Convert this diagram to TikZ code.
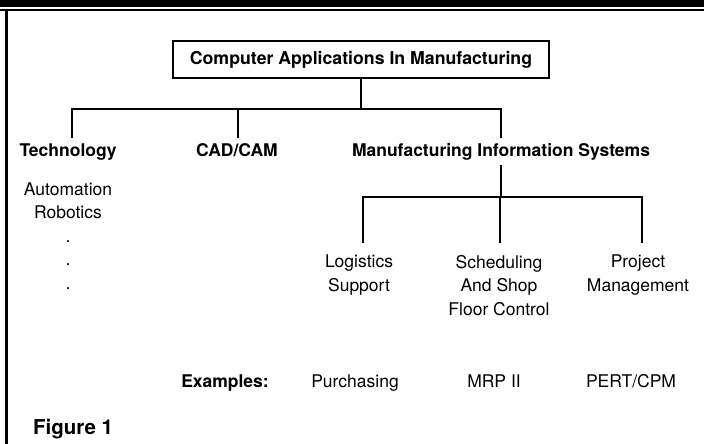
\documentclass[tikz,border=0pt]{standalone}
\usepackage{fontspec}
\setmainfont{TeX Gyre Heros}
\usetikzlibrary{positioning}
\tikzset{
  head/.style={draw, line width=2.4pt, minimum width=376pt, minimum height=37pt,
               inner sep=0pt, font=\fontsize{17.7}{22}\selectfont\bfseries},
  cat/.style={anchor=base, inner sep=5pt, font=\fontsize{17.5}{23.5}\selectfont\bfseries},
  sub/.style={anchor=north, align=center, inner xsep=2pt, inner ysep=12pt,
              font=\fontsize{17.5}{23.5}\selectfont},
  item/.style={anchor=base, inner sep=2pt, font=\fontsize{17.5}{23.5}\selectfont},
  link/.style={line width=2.6pt},
  frame/.style={line width=2.6pt},
}

\begin{document}
\begin{tikzpicture}[x=1pt, y=-1pt]
  \useasboundingbox (0,0) rectangle (704,444);
  % page rules
  \fill (0,0) rectangle (704,7);
  \draw[line width=2pt] (0,10) -- (704,10);
  \draw[frame] (6.5,10) -- (6.5,444);
  % top of the tree
  \node[head] (apps) at (361,59.5) {Computer Applications In Manufacturing};
  \coordinate (hub) at (361,109);
  \node[cat] (tech) at (68,156) {Technology};
  \node[cat] (cad) at (237,156) {CAD/CAM};
  \node[cat] (mis) at (501,156) {Manufacturing Information Systems};
  \draw[link] (apps.south) -- (hub);
  \draw[link] ([xshift=4pt]tech.north) |- (hub) -| (mis.north);
  \draw[link] ([xshift=1pt]cad.north) -- ([xshift=1pt]cad.north |- hub);
  % technology list
  \node[sub, inner ysep=0pt] (techlist) at (68,182.5) {Automation\\Robotics\\.\\.\\.};
  % information systems branch
  \coordinate (mhub) at (501,197);
  \node[sub] (logi) at (359,243) {Logistics\\Support};
  \node[sub] (sched) at (499,243) {Scheduling\\And Shop\\Floor Control};
  \node[sub] (proj) at (638,243) {Project\\Management};
  \draw[link] (mis.south) -- (mhub);
  \draw[link] ([xshift=4pt]logi.north) |- (mhub) -| ([xshift=4pt]proj.north);
  \draw[link] ([xshift=1pt]sched.north) -- ([xshift=1pt]sched.north |- mhub);
  % examples row
  \node[item, font=\fontsize{17.5}{23.5}\selectfont\bfseries] (ex) at (225,387) {Examples:};
  \node[item] (purch) at (355,387) {Purchasing};
  \node[item] (mrp) at (494,387) {MRP II};
  \node[item] (pert) at (631,387) {PERT/CPM};
  % caption
  \node[anchor=base west, inner sep=0pt, font=\fontsize{20.5}{24}\selectfont\bfseries]
    (fig) at (33,434) {Figure 1};
\end{tikzpicture}
\end{document}
